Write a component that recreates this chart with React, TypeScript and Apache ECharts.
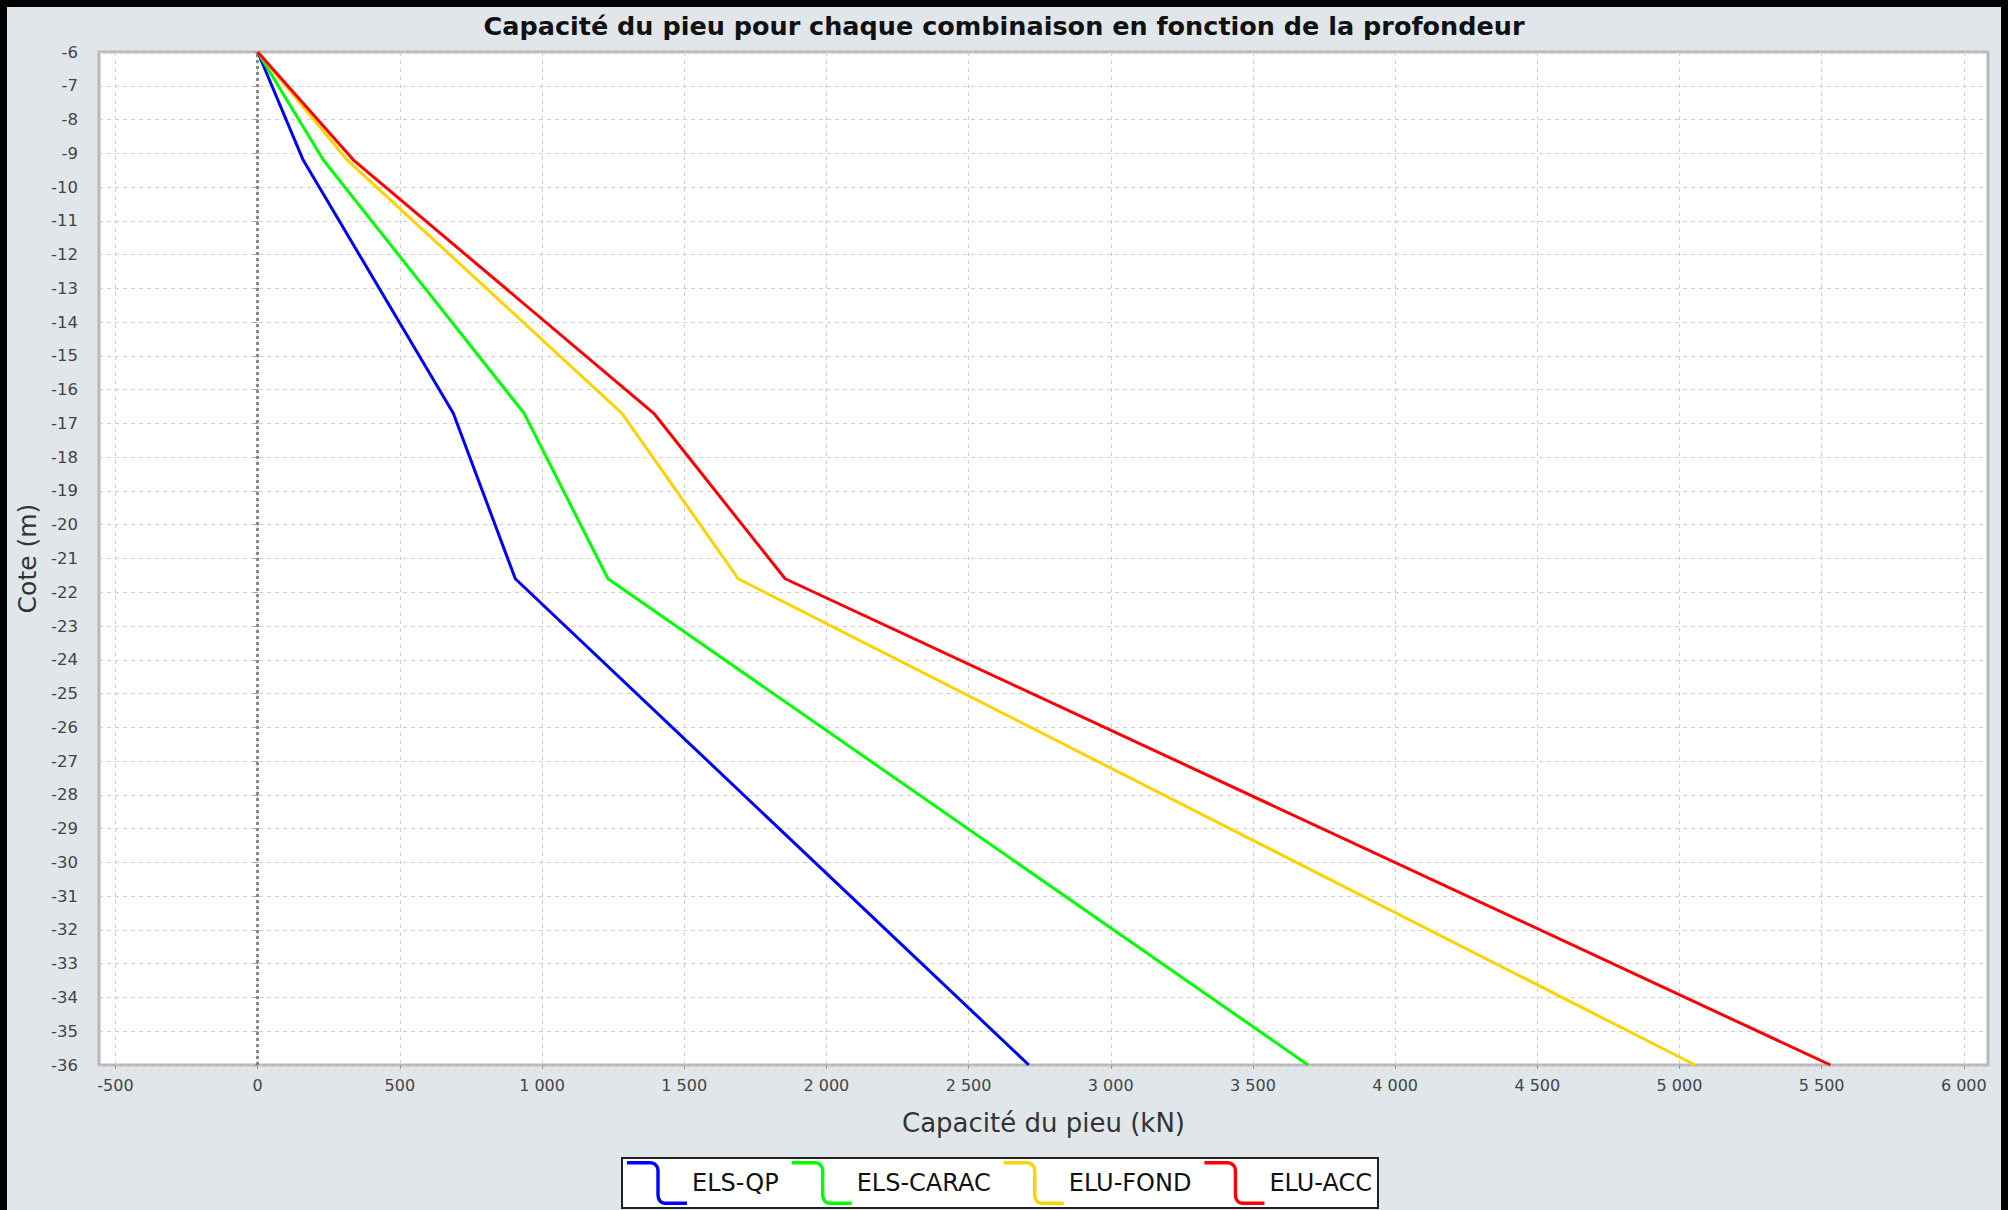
import React, { useEffect, useRef } from "react";
import * as echarts from "echarts";

// Depth (cote, m) of each break point of the capacity curves
const depths = [-6, -9.2, -16.7, -21.6, -36];
// Pile capacity (kN) at each depth, per combination
const elsQp = [0, 160, 688, 906, 2712];
const elsCarac = [0, 231, 937, 1232, 3694];
const eluFond = [0, 315, 1281, 1690, 5055];
const eluAcc = [0, 337, 1393, 1855, 5531];

const seriesNames = ["ELS-QP", "ELS-CARAC", "ELU-FOND", "ELU-ACC"];
const seriesColors = ["#0000ff", "#00ff00", "#ffd200", "#ff0000"];
const seriesValues = [elsQp, elsCarac, eluFond, eluAcc];

const xTicks = [-500, 0, 500, 1000, 1500, 2000, 2500, 3000, 3500, 4000, 4500, 5000, 5500, 6000];

const titleText = "Capacité du pieu pour chaque combinaison en fonction de la profondeur";
const xName = "Capacité du pieu (kN)";
const yName = "Cote (m)";

const legendIconPath =
  "path://M0,0 L23,0 C28.5,0 32.7,4.2 32.7,9.7 L32.7,33 C32.7,37.5 34.5,40.6 38.5,40.6 L60,40.6 L60,44 L38.5,44 C32.5,44 29.3,39.5 29.3,33 L29.3,9.7 C29.3,6 27,3.4 23,3.4 L0,3.4 Z";

function formatThousands(v: number): string {
  const neg = v < 0;
  const a = Math.abs(Math.round(v));
  let s: string;
  if (a >= 1000) {
    s = Math.floor(a / 1000) + " " + String(a % 1000).padStart(3, "0");
  } else {
    s = String(a);
  }
  return (neg ? "-" : "") + s;
}

export default function App() {
  const ref = useRef<HTMLDivElement>(null);

  useEffect(() => {
    if (!ref.current) return;
    const chart = echarts.init(ref.current, null, { renderer: "svg" });

    const series: any[] = seriesNames.map((name, i) => ({
      name,
      type: "line",
      data: depths.map((d, k) => [seriesValues[i][k], d]),
      showSymbol: false,
      symbol: "none",
      lineStyle: { color: seriesColors[i], width: 3 },
      itemStyle: { color: seriesColors[i] },
      z: 3,
    }));
    series[0].markLine = {
      silent: true,
      symbol: ["none", "none"],
      label: { show: false },
      lineStyle: { color: "#8a8a8a", type: [3, 3], width: 3 },
      data: [{ xAxis: 0 }],
      z: 1,
    };

    const labelFont = "DejaVu Sans";

    chart.setOption({
      animation: false,
      backgroundColor: "#e1e6eb",
      title: {
        text: titleText,
        left: "center",
        top: 13,
        padding: 0,
        textStyle: {
          fontFamily: "DejaVu Sans",
          fontWeight: "bold",
          fontSize: 25.5,
          color: "#111111",
        },
      },
      grid: {
        left: 99,
        right: 20,
        top: 52,
        bottom: 145,
        show: true,
        backgroundColor: "#ffffff",
        borderColor: "#b8b8b8",
        borderWidth: 3,
      },
      xAxis: {
        type: "value",
        min: -558,
        max: 6085,
        name: xName,
        nameLocation: "middle",
        nameGap: 45,
        nameTextStyle: { fontFamily: labelFont, fontSize: 26, color: "#333333" },
        axisLine: { show: false },
        axisTick: {
          show: true,
          length: 4,
          lineStyle: { color: "#999999" },
          customValues: xTicks,
        },
        axisLabel: {
          customValues: xTicks,
          margin: 12,
          fontFamily: labelFont,
          fontSize: 16,
          color: "#444444",
          formatter: (v: number) => formatThousands(v),
        },
        splitLine: {
          show: true,
          lineStyle: { color: "#cfcfcf", type: [4, 4], width: 1 },
        },
      },
      yAxis: {
        type: "value",
        min: -36,
        max: -6,
        interval: 1,
        name: yName,
        nameLocation: "middle",
        nameGap: 49,
        nameTextStyle: { fontFamily: labelFont, fontSize: 25, color: "#333333" },
        axisLine: { show: false },
        axisTick: { show: true, length: 4, lineStyle: { color: "#999999" } },
        axisLabel: {
          margin: 21,
          fontFamily: labelFont,
          fontSize: 16.5,
          color: "#444444",
        },
        splitLine: {
          show: true,
          lineStyle: { color: "#cfcfcf", type: [4, 4], width: 1 },
        },
      },
      legend: {
        data: seriesNames,
        left: 622,
        top: 1158,
        orient: "horizontal",
        icon: legendIconPath,
        itemWidth: 60,
        itemHeight: 44,
        itemGap: 13,
        padding: [3, 6, 3, 5],
        backgroundColor: "#ffffff",
        borderColor: "#222222",
        borderWidth: 2,
        selectedMode: false,
        itemStyle: { borderWidth: 0 },
        textStyle: { fontFamily: "DejaVu Sans", fontSize: 24, color: "#111111" },
      },
      graphic: [
        { type: "rect", shape: { x: 0, y: 0, width: 2008, height: 7 }, style: { fill: "#000000" }, z: 100 },
        { type: "rect", shape: { x: 0, y: 0, width: 7, height: 1210 }, style: { fill: "#000000" }, z: 100 },
        { type: "rect", shape: { x: 2001, y: 0, width: 7, height: 1210 }, style: { fill: "#000000" }, z: 100 },
      ],
      series,
    });

    return () => {
      chart.dispose();
    };
  }, []);

  return (
    <div
      ref={ref}
      style={{ position: "absolute", left: 0, top: 0, width: 2008, height: 1210 }}
    />
  );
}
